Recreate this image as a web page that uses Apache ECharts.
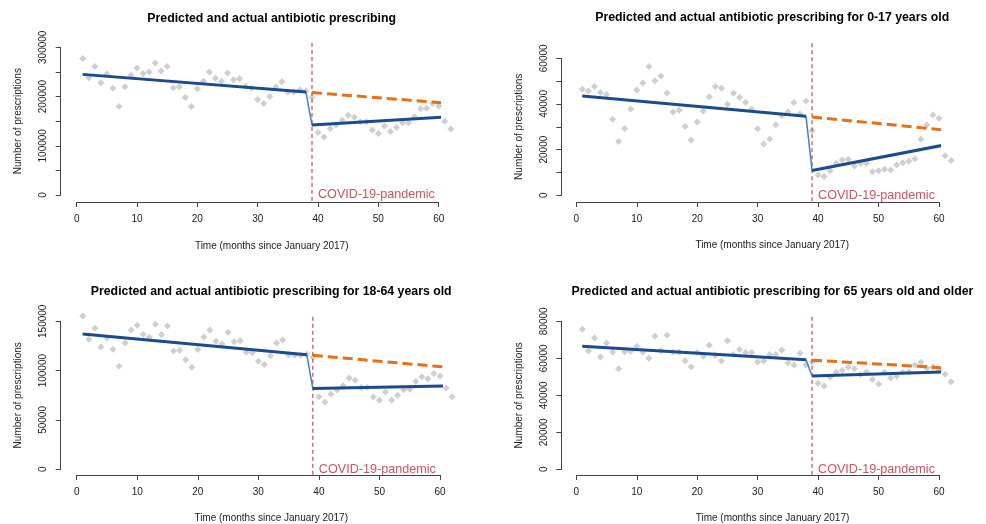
<!DOCTYPE html>
<html>
<head>
<meta charset="utf-8">
<script src="https://cdn.jsdelivr.net/npm/echarts@6/dist/echarts.min.js"></script>
<style>
  html, body { margin: 0; padding: 0; background: #fff; }
  #chart { width: 986px; height: 524px; }
</style>
</head>
<body>
<div id="chart"></div>
<script>
// months since January 2017
var months = [1, 2, 3, 4, 5, 6, 7, 8, 9, 10, 11, 12, 13, 14, 15, 16, 17, 18, 19, 20,
  21, 22, 23, 24, 25, 26, 27, 28, 29, 30, 31, 32, 33, 34, 35, 36, 37, 38, 39, 40,
  41, 42, 43, 44, 45, 46, 47, 48, 49, 50, 51, 52, 53, 54, 55, 56, 57, 58, 59, 60, 61, 62]

// observed prescriptions (thousands)
var obsAll = [277, 238, 261, 228, 246, 217, 180, 220, 243, 258,
  247, 250, 268, 252, 261, 218, 220, 198, 180, 216,
  231, 250, 237, 231, 248, 234, 236, 221, 217, 194,
  186, 200, 220, 230, 209, 209, 214, 211, 198, 127,
  118, 135, 142, 152, 162, 158, 149, 149, 132, 125,
  140, 129, 137, 147, 147, 159, 175, 176, 186, 181,
  150, 134]
var obs0to17 = [46.4, 45.7, 47.6, 45.0, 44.2, 33.3, 23.6, 29.3, 37.8, 46.1,
  49.2, 56.4, 50.2, 52.3, 44.8, 36.5, 37.2, 30.1, 24.1, 32.1,
  36.9, 43.2, 47.7, 46.9, 39.9, 44.7, 42.9, 40.6, 37.8, 29.1,
  22.5, 24.7, 30.9, 34.9, 36.5, 40.6, 35.6, 41.3, 28.3, 8.9,
  8.2, 10.8, 14.0, 15.5, 15.8, 12.8, 14.0, 14.0, 10.3, 10.8,
  11.4, 11.1, 13.3, 14.3, 14.9, 16.0, 24.5, 30.8, 35.2, 33.7,
  17.3, 15.2]
var obs18to64 = [155.4, 131.8, 142.9, 124.0, 133.1, 121.6, 104.4, 128.0, 141.2, 145.9,
  136.5, 133.8, 147.0, 136.5, 145.3, 119.9, 120.6, 111.1, 103.4, 121.3,
  134.1, 141.2, 129.7, 127.0, 138.9, 129.4, 130.4, 118.6, 118.2, 109.5,
  106.1, 114.9, 128.0, 131.1, 116.2, 115.5, 115.5, 116.9, 113.9, 73.6,
  68.2, 76.0, 80.4, 84.8, 92.6, 90.2, 82.8, 82.8, 73.3, 69.9,
  78.4, 70.3, 75.0, 80.7, 81.1, 88.9, 93.9, 91.9, 97.0, 94.6,
  82.4, 73.6]
var obs65plus = [75.7, 64.0, 71.0, 60.7, 68.3, 63.4, 54.4, 63.6, 63.8, 66.5,
  63.4, 60.0, 71.9, 64.1, 72.4, 63.4, 63.4, 58.7, 55.3, 63.2,
  61.1, 67.0, 61.6, 58.6, 69.5, 62.0, 64.7, 63.2, 63.2, 58.0,
  58.6, 62.1, 62.1, 64.5, 57.6, 56.4, 62.7, 56.4, 58.0, 46.5,
  45.0, 49.7, 52.4, 53.5, 55.1, 54.4, 51.2, 52.6, 48.5, 46.1,
  52.4, 49.4, 50.3, 52.4, 52.6, 56.4, 57.8, 54.8, 55.3, 53.5,
  51.4, 47.3]

// fitted segmented regression (thousands): start/end of pre period, start/end of post period
var fitMonths = [1, 38, 39, 62]
var fitAll = [245, 209, 142, 159]
var fit0to17 = [43.5, 34.6, 10.9, 22.6]
var fit18to64 = [137.2, 116.2, 81.8, 84.5]
var fit65plus = [66.5, 59.2, 50.4, 52.7]

// predicted without pandemic (thousands)
var cfMonths = [39, 62]
var cfAll = [208, 186]
var cf0to17 = [34.3, 28.3]
var cf18to64 = [115.5, 103.0]
var cf65plus = [59.0, 54.6]

var pandemicStart = 39
var xTicks = [0, 60, 10]

var titles = [
  'Predicted and actual antibiotic prescribing',
  'Predicted and actual antibiotic prescribing for 0-17 years old',
  'Predicted and actual antibiotic prescribing for 18-64 years old',
  'Predicted and actual antibiotic prescribing for 65 years old and older'
]

var FONT = '"Liberation Sans", Arial, sans-serif'
var BLUE = '#1b4b8e'
var LIGHTBLUE = '#3d80c8'
var ORANGE = '#ea6e12'
var RED = '#c0282f'
var GREY = '#c3c3c3'
var AXIS = '#444'

// layout of each panel (pixels)
var panels = [
  { obs: obsAll, fit: fitAll, cf: cfAll, yMax: 300000, step: 50000, labelStep: 100000,
    x0: 76.7, x60: 438.7, y0: 195, yTop: 47.3, yAxisX: 60.7, xAxisY: 202, vLine: [-12000, 309000],
    titleX: 271.7, titleY: 18.5, yNameX: 18.3, xNameY: 246.7 },
  { obs: obs0to17, fit: fit0to17, cf: cf0to17, yMax: 60000, step: 10000, labelStep: 20000,
    x0: 576.3, x60: 939, y0: 195.3, yTop: 58.3, yAxisX: 561.3, xAxisY: 202, vLine: [-2600, 66800],
    titleX: 772.2, titleY: 18, yNameX: 519.7, xNameY: 245.7 },
  { obs: obs18to64, fit: fit18to64, cf: cf18to64, yMax: 150000, step: 50000, labelStep: 50000,
    x0: 76.7, x60: 440, y0: 469.3, yTop: 321.3, yAxisX: 60.7, xAxisY: 475, vLine: [-5600, 157000],
    titleX: 271.2, titleY: 291.3, yNameX: 18.3, xNameY: 518.7 },
  { obs: obs65plus, fit: fit65plus, cf: cf65plus, yMax: 80000, step: 20000, labelStep: 20000,
    x0: 576.3, x60: 939, y0: 469.3, yTop: 321.3, yAxisX: 561.3, xAxisY: 475, vLine: [-3000, 83200],
    titleX: 772.5, titleY: 291.3, yNameX: 519.7, xNameY: 518.7 }
]

function pairs (xs, ys) {
  var out = []
  for (var i = 0; i < xs.length; i++) {
    out.push([xs[i], ys[i] * 1000])
  }
  return out
}

var grid = [], xAxis = [], yAxis = [], series = [], graphic = []

panels.forEach(function (p, i) {
  grid.push({ left: p.x0, top: p.yTop, width: p.x60 - p.x0, height: p.y0 - p.yTop, containLabel: false })
  xAxis.push({
    gridIndex: i, type: 'value', min: xTicks[0], max: xTicks[1], interval: xTicks[2],
    offset: p.xAxisY - p.y0,
    axisLine: { show: true, onZero: false, lineStyle: { color: AXIS, width: 1 } },
    axisTick: { show: true, length: 5, lineStyle: { color: AXIS } },
    axisLabel: { fontSize: 10, color: '#1a1a1a', fontFamily: FONT, margin: 12 },
    splitLine: { show: false }
  })
  yAxis.push({
    gridIndex: i, type: 'value', min: 0, max: p.yMax, interval: p.step,
    offset: p.x0 - p.yAxisX,
    axisLine: { show: true, onZero: false, lineStyle: { color: AXIS, width: 1 } },
    axisTick: { show: true, length: 5, lineStyle: { color: AXIS } },
    axisLabel: {
      rotate: 90, fontSize: 10, color: '#1a1a1a', fontFamily: FONT, margin: 12,
      formatter: function (v) { return v % p.labelStep === 0 ? String(v) : '' }
    },
    splitLine: { show: false }
  })

  var fitPts = pairs(fitMonths, p.fit)
  series.push({
    type: 'scatter', xAxisIndex: i, yAxisIndex: i, clip: false, silent: true,
    symbol: 'diamond', symbolSize: 7, itemStyle: { color: GREY },
    data: pairs(months, p.obs)
  })
  series.push({
    type: 'line', xAxisIndex: i, yAxisIndex: i, clip: false, silent: true, showSymbol: false,
    lineStyle: { color: RED, width: 1, type: [4, 3] },
    data: [[pandemicStart, p.vLine[0]], [pandemicStart, p.vLine[1]]]
  })
  // full fitted line incl. drop
  series.push({
    type: 'line', xAxisIndex: i, yAxisIndex: i, clip: false, silent: true, showSymbol: false,
    lineStyle: { color: LIGHTBLUE, width: 1.5 },
    data: fitPts
  })
  series.push({
    type: 'line', xAxisIndex: i, yAxisIndex: i, clip: false, silent: true, showSymbol: false,
    lineStyle: { color: BLUE, width: 3 },
    data: fitPts.slice(0, 2)
  })
  series.push({
    type: 'line', xAxisIndex: i, yAxisIndex: i, clip: false, silent: true, showSymbol: false,
    lineStyle: { color: BLUE, width: 3 },
    data: fitPts.slice(2)
  })
  series.push({
    type: 'line', xAxisIndex: i, yAxisIndex: i, clip: false, silent: true, showSymbol: false,
    lineStyle: { color: ORANGE, width: 3, type: [10, 5] },
    data: pairs(cfMonths, p.cf)
  })
  series.push({
    type: 'scatter', xAxisIndex: i, yAxisIndex: i, clip: false, silent: true,
    symbolSize: 0,
    label: {
      show: true, position: 'right', distance: 6, formatter: 'COVID-19-pandemic',
      color: RED, fontSize: 12.6, fontFamily: FONT
    },
    data: [[pandemicStart, 0]]
  })

  graphic.push({
    type: 'text', x: p.titleX, y: p.titleY,
    style: { text: titles[i], font: 'bold 12.3px ' + FONT, fill: '#000', textAlign: 'center', textVerticalAlign: 'middle' }
  })
  graphic.push({
    type: 'text', x: p.titleX, y: p.xNameY,
    style: { text: 'Time (months since January 2017)', font: '10px ' + FONT, fill: '#222', textAlign: 'center', textVerticalAlign: 'middle' }
  })
  graphic.push({
    type: 'text', x: p.yNameX, y: (p.yTop + p.y0) / 2, rotation: Math.PI / 2,
    style: { text: 'Number of prescriptions', font: '10px ' + FONT, fill: '#222', textAlign: 'center', textVerticalAlign: 'middle' }
  })
})

var myChart = echarts.init(document.getElementById('chart'))
myChart.setOption({
  animation: false,
  backgroundColor: '#fff',
  grid: grid,
  xAxis: xAxis,
  yAxis: yAxis,
  series: series,
  graphic: graphic
})
</script>
</body>
</html>
